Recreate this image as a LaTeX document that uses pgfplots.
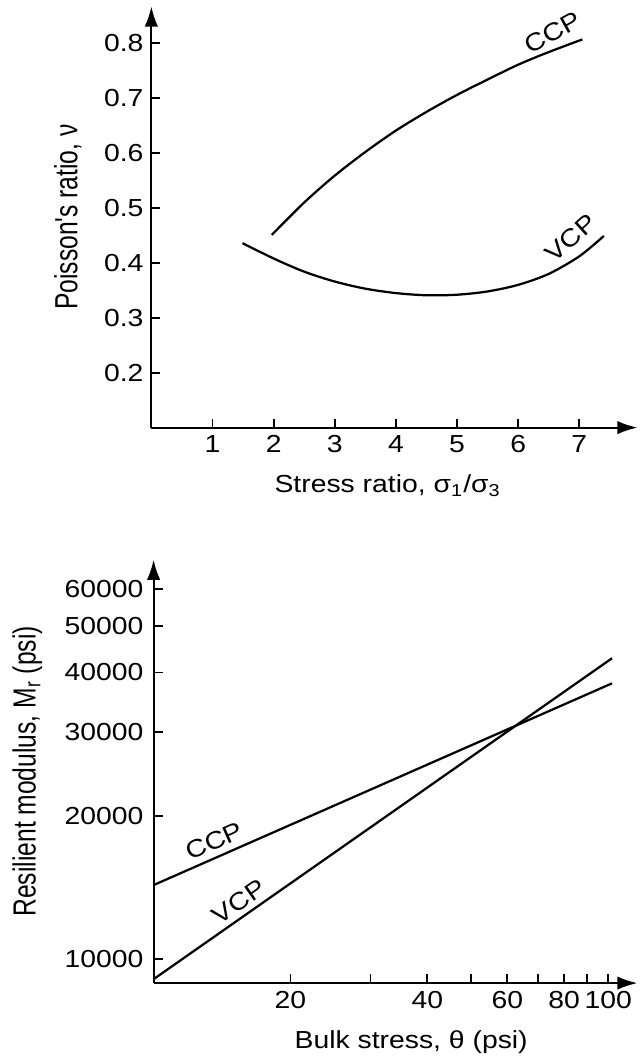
\documentclass[border=0pt]{standalone}
\usepackage{fontspec}
\setmainfont{Liberation Sans}[FakeStretch=1.15]
\newfontfamily\rotfont{Liberation Sans}
\usepackage{graphicx}
\usepackage{pgfplots}
\pgfplotsset{compat=1.18}
\usetikzlibrary{arrows.meta}

\begin{document}
\begin{tikzpicture}
\pgfplotsset{
  every axis/.append style={
    scale only axis,
    axis lines=left,
    tick align=inside,
    axis line style={line width=0.9pt, -{Latex[length=9pt,width=6pt]}},
    tick style={line width=0.8pt, black},
    major tick length=4pt,
    clip=false,
    /pgf/number format/assume math mode=true,
    tick label style={font=\fontsize{11}{13}\selectfont},
    xlabel style={font=\fontsize{11}{13}\selectfont, yshift=-3pt},
    ylabel style={font=\rotfont\fontsize{11}{13}\selectfont, inner sep=5.5pt},
    ylabel shift=1pt,
  },
}
% top: Poisson's ratio vs stress ratio
\begin{axis}[
  width=217pt, height=188pt,
  xmin=0, xmax=7.95, ymin=0.1, ymax=0.867,
  xtick={1,2,3,4,5,6,7},
  ytick={0.2,0.3,0.4,0.5,0.6,0.7,0.8},
  yticklabel style={/pgf/number format/.cd, fixed, fixed zerofill, precision=1},
  xlabel={Stress ratio, σ\textsubscript{1}/σ\textsubscript{3}},
  xlabel style={xshift=-3pt},
  ylabel={\scalebox{1}[1.3]{Poisson's ratio, ν}},
]
\addplot[black, line width=1pt, smooth] coordinates {
  (1.97,0.451) (2.5,0.510) (3.0,0.559) (3.5,0.602) (4.0,0.641) (4.5,0.675)
  (5.0,0.706) (5.5,0.734) (6.0,0.761) (6.5,0.784) (7.05,0.807)
};
\addplot[black, line width=1pt, smooth] coordinates {
  (1.49,0.436) (2.0,0.408) (2.5,0.384) (3.0,0.366) (3.5,0.353) (4.0,0.345)
  (4.5,0.341) (5.0,0.342) (5.5,0.348) (6.0,0.360) (6.5,0.380) (7.0,0.412) (7.4,0.449)
};
\node[rotate=29, font=\fontsize{11}{13}\selectfont] at (axis cs:6.56,0.82) {CCP};
\node[rotate=42, font=\fontsize{11}{13}\selectfont] at (axis cs:6.86,0.445) {VCP};
\end{axis}

% bottom: resilient modulus vs bulk stress (log-log)
\begin{axis}[
  at={(1pt,-248pt)},
  width=216pt, height=189pt,
  xmode=log, ymode=log,
  xmin=10, xmax=116, ymin=8900, ymax=69000,
  xtick={20,30,40,50,60,70,80,90,100},
  xticklabels={20,,40,,60,,80,,100},
  ytick={10000,20000,30000,40000,50000,60000},
  yticklabels={10000,20000,30000,40000,50000,60000},
  yticklabel style={xshift=-1pt},
  xminorticks=false, yminorticks=false,
  xlabel={Bulk stress, θ (psi)},
  xlabel style={xshift=7pt},
  ylabel={\scalebox{1}[1.3]{Resilient modulus, M\textsubscript{r} (psi)}},
]
\addplot[black, line width=1pt] coordinates {(10,14300) (102,37950)};
\addplot[black, line width=1pt] coordinates {(10,9070) (102,42840)};
\node[rotate=24, font=\fontsize{11}{13}\selectfont] at (axis cs:13.6,17700) {CCP};
\node[rotate=35, font=\fontsize{11}{13}\selectfont] at (axis cs:15.4,13200) {VCP};
\end{axis}
\end{tikzpicture}
\end{document}
